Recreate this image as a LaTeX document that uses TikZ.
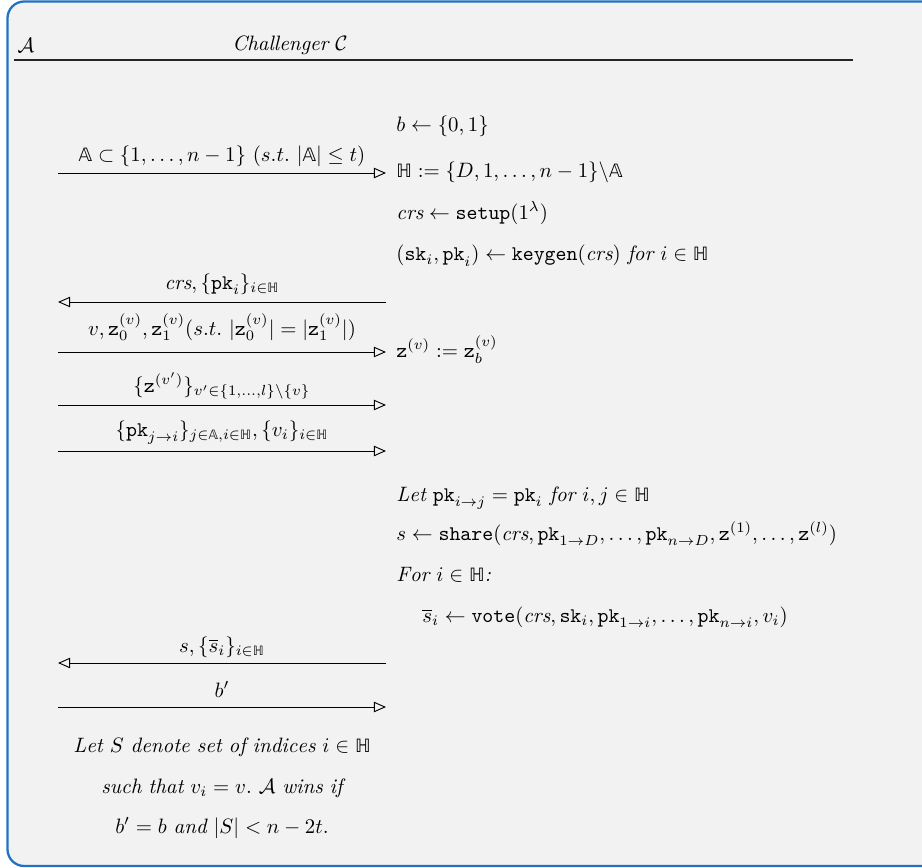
\documentclass[tikz,border=0pt]{standalone}
\usepackage{amsmath,amssymb}
\usepackage{fontspec}
\newfontfamily\dvsans{DejaVu Sans}
\usetikzlibrary{arrows.meta}
\definecolor{bgfill}{HTML}{F2F2F2}
\definecolor{frameblue}{HTML}{2272C3}
\newcommand{\HH}{\text{\dvsans\scalebox{0.88}{ℍ}}}
\newcommand{\AAA}{\text{\dvsans\scalebox{0.88}{𝔸}}}
\begin{document}
\begin{tikzpicture}[x=0.48pt,y=-0.48pt,
  txt/.style={anchor=base west,inner sep=0pt},
  lbl/.style={anchor=base,inner sep=0pt},
  msg/.style={-{Triangle[open,length=5.8pt,width=5pt]},line width=0.45pt}]
\useasboundingbox (0,0) rectangle (922,867);
\draw[frameblue,fill=bgfill,line width=1.1pt,rounded corners=8pt] (7.5,1.5) rectangle (960,866);
% header
\node[inner sep=0pt] (hA) at (26,45) {$\mathcal{A}$};
\node[inner sep=0pt] (hC) at (290,45) {$\mathit{Challenger}\ \mathcal{C}$};
\coordinate (hl1) at (14,60);
\coordinate (hl2) at (853,60);
\draw[line width=0.8pt,black!85] (hl1) -- (hl2);
% challenger column
\node[txt] (c1) at (396,132) {$b\leftarrow\{0,1\}$};
\node[txt] (c2) at (396,178) {$\HH:=\{D,1,\ldots,n-1\}\backslash\AAA$};
\node[txt] (c3) at (396,219) {$\mathit{crs}\leftarrow\texttt{setup}(1^{\lambda})$};
\node[txt] (c4) at (396,261) {$(\texttt{sk}_i,\texttt{pk}_i)\leftarrow\texttt{keygen}(\mathit{crs})\ \mathit{for}\ i\in\HH$};
\node[txt] (c5) at (396,357) {$\mathtt{z}^{(v)}:=\mathtt{z}_b^{(v)}$};
\node[txt] (c6) at (396,501) {$\mathit{Let}\ \texttt{pk}_{i\rightarrow j}=\texttt{pk}_i\ \mathit{for}\ i,j\in\HH$};
\node[txt] (c7) at (396,540) {$s\leftarrow\texttt{share}(\mathit{crs},\texttt{pk}_{1\rightarrow D},\ldots,\texttt{pk}_{n\rightarrow D},\mathtt{z}^{(1)},\ldots,\mathtt{z}^{(l)})$};
\node[txt] (c8) at (396,581) {$\mathit{For}\ i\in\HH$\textit{:}};
\node[txt] (c9) at (422,622) {$\overline{s}_i\leftarrow\texttt{vote}(\mathit{crs},\texttt{sk}_i,\texttt{pk}_{1\rightarrow i},\ldots,\texttt{pk}_{n\rightarrow i},v_i)$};
% messages
\foreach \n/\y in {1/173,2/302,3/352,4/405,5/451,6/663,7/707}{
  \coordinate (L\n) at (58,\y);
  \coordinate (R\n) at (386,\y);
}
\draw[msg] (L1) -- (R1);
\draw[msg] (R2) -- (L2);
\draw[msg] (L3) -- (R3);
\draw[msg] (L4) -- (R4);
\draw[msg] (L5) -- (R5);
\draw[msg] (R6) -- (L6);
\draw[msg] (L7) -- (R7);
\node[lbl] (m1) at (222,162) {$\AAA\subset\{1,\ldots,n-1\}\ (s.t.\ |\AAA|\leq t)$};
\node[lbl] (m2) at (222,289) {$\mathit{crs},\{\texttt{pk}_i\}_{i\in\HH}$};
\node[lbl] (m3) at (222,335) {$v,\mathtt{z}_0^{(v)},\mathtt{z}_1^{(v)}(s.t.\ |\mathtt{z}_0^{(v)}|=|\mathtt{z}_1^{(v)}|)$};
\node[lbl] (m4) at (222,392) {$\{\mathtt{z}^{(v')}\}_{v'\in\{1,\ldots,l\}\backslash\{v\}}$};
\node[lbl] (m5) at (222,436) {$\{\texttt{pk}_{j\rightarrow i}\}_{j\in\AAA,i\in\HH},\{v_i\}_{i\in\HH}$};
\node[lbl] (m6) at (222,652) {$s,\{\overline{s}_i\}_{i\in\HH}$};
\node[lbl] (m7) at (222,697) {$b'$};
% adversary conclusion
\node[lbl] (a1) at (222,752) {$\mathit{Let}\ S\ \mathit{denote\ set\ of\ indices}\ i\in\HH$};
\node[lbl] (a2) at (222,793) {$\mathit{such\ that}\ v_i=v.\ \mathcal{A}\ \mathit{wins\ if}$};
\node[lbl] (a3) at (222,833) {$b'=b\ \mathit{and}\ |S|<n-2t.$};
\end{tikzpicture}
\end{document}
